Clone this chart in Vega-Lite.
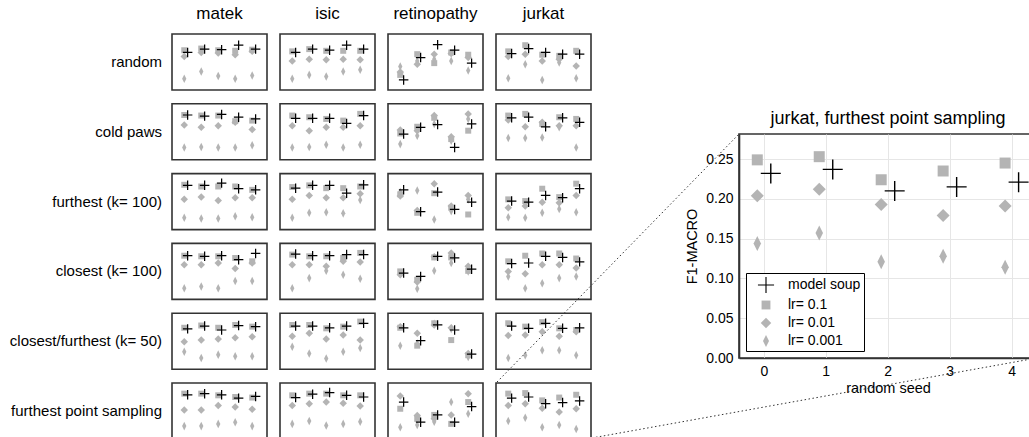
{
  "$schema": "https://vega.github.io/schema/vega-lite/v6.json",
  "padding": {"left": 9, "top": 5, "right": 0, "bottom": 0},
  "config": {
    "font": "Liberation Sans",
    "view": {"stroke": "#333", "strokeWidth": 1.6},
    "axis": {"labelColor": "#000", "titleColor": "#000", "titleFontWeight": "normal", "labelFontSize": 14, "titleFontSize": 14.5, "gridColor": "#e6e6e6", "gridWidth": 1, "domainColor": "#333", "domainWidth": 1.6, "ticks": false},
    "header": {"labelColor": "#000"},
    "legend": {"labelColor": "#000"},
    "title": {"color": "#000"}
  },
  "datasets": {
    "grid": [
{"d":"matek","m":"random","x":0,"s":"model soup","v":0.67},{"d":"matek","m":"random","x":0,"s":"lr= 0.1","v":0.71},{"d":"matek","m":"random","x":0,"s":"lr= 0.01","v":0.60},{"d":"matek","m":"random","x":0,"s":"lr= 0.001","v":0.20},
{"d":"matek","m":"random","x":1,"s":"model soup","v":0.73},{"d":"matek","m":"random","x":1,"s":"lr= 0.1","v":0.74},{"d":"matek","m":"random","x":1,"s":"lr= 0.01","v":0.67},{"d":"matek","m":"random","x":1,"s":"lr= 0.001","v":0.33},
{"d":"matek","m":"random","x":2,"s":"model soup","v":0.72},{"d":"matek","m":"random","x":2,"s":"lr= 0.1","v":0.71},{"d":"matek","m":"random","x":2,"s":"lr= 0.01","v":0.66},{"d":"matek","m":"random","x":2,"s":"lr= 0.001","v":0.25},
{"d":"matek","m":"random","x":3,"s":"model soup","v":0.80},{"d":"matek","m":"random","x":3,"s":"lr= 0.1","v":0.70},{"d":"matek","m":"random","x":3,"s":"lr= 0.01","v":0.63},{"d":"matek","m":"random","x":3,"s":"lr= 0.001","v":0.20},
{"d":"matek","m":"random","x":4,"s":"model soup","v":0.73},{"d":"matek","m":"random","x":4,"s":"lr= 0.1","v":0.72},{"d":"matek","m":"random","x":4,"s":"lr= 0.01","v":0.69},{"d":"matek","m":"random","x":4,"s":"lr= 0.001","v":0.26},
{"d":"matek","m":"cold paws","x":0,"s":"model soup","v":0.80},{"d":"matek","m":"cold paws","x":0,"s":"lr= 0.1","v":0.80},{"d":"matek","m":"cold paws","x":0,"s":"lr= 0.01","v":0.62},{"d":"matek","m":"cold paws","x":0,"s":"lr= 0.001","v":0.22},
{"d":"matek","m":"cold paws","x":1,"s":"model soup","v":0.78},{"d":"matek","m":"cold paws","x":1,"s":"lr= 0.1","v":0.79},{"d":"matek","m":"cold paws","x":1,"s":"lr= 0.01","v":0.58},{"d":"matek","m":"cold paws","x":1,"s":"lr= 0.001","v":0.23},
{"d":"matek","m":"cold paws","x":2,"s":"model soup","v":0.81},{"d":"matek","m":"cold paws","x":2,"s":"lr= 0.1","v":0.79},{"d":"matek","m":"cold paws","x":2,"s":"lr= 0.01","v":0.61},{"d":"matek","m":"cold paws","x":2,"s":"lr= 0.001","v":0.22},
{"d":"matek","m":"cold paws","x":3,"s":"model soup","v":0.76},{"d":"matek","m":"cold paws","x":3,"s":"lr= 0.1","v":0.69},{"d":"matek","m":"cold paws","x":3,"s":"lr= 0.01","v":0.67},{"d":"matek","m":"cold paws","x":3,"s":"lr= 0.001","v":0.22},
{"d":"matek","m":"cold paws","x":4,"s":"model soup","v":0.73},{"d":"matek","m":"cold paws","x":4,"s":"lr= 0.1","v":0.70},{"d":"matek","m":"cold paws","x":4,"s":"lr= 0.01","v":0.54},{"d":"matek","m":"cold paws","x":4,"s":"lr= 0.001","v":0.26},
{"d":"matek","m":"furthest (k= 100)","x":0,"s":"model soup","v":0.79},{"d":"matek","m":"furthest (k= 100)","x":0,"s":"lr= 0.1","v":0.80},{"d":"matek","m":"furthest (k= 100)","x":0,"s":"lr= 0.01","v":0.54},{"d":"matek","m":"furthest (k= 100)","x":0,"s":"lr= 0.001","v":0.21},
{"d":"matek","m":"furthest (k= 100)","x":1,"s":"model soup","v":0.79},{"d":"matek","m":"furthest (k= 100)","x":1,"s":"lr= 0.1","v":0.77},{"d":"matek","m":"furthest (k= 100)","x":1,"s":"lr= 0.01","v":0.58},{"d":"matek","m":"furthest (k= 100)","x":1,"s":"lr= 0.001","v":0.20},
{"d":"matek","m":"furthest (k= 100)","x":2,"s":"model soup","v":0.83},{"d":"matek","m":"furthest (k= 100)","x":2,"s":"lr= 0.1","v":0.77},{"d":"matek","m":"furthest (k= 100)","x":2,"s":"lr= 0.01","v":0.52},{"d":"matek","m":"furthest (k= 100)","x":2,"s":"lr= 0.001","v":0.20},
{"d":"matek","m":"furthest (k= 100)","x":3,"s":"model soup","v":0.73},{"d":"matek","m":"furthest (k= 100)","x":3,"s":"lr= 0.1","v":0.77},{"d":"matek","m":"furthest (k= 100)","x":3,"s":"lr= 0.01","v":0.57},{"d":"matek","m":"furthest (k= 100)","x":3,"s":"lr= 0.001","v":0.24},
{"d":"matek","m":"furthest (k= 100)","x":4,"s":"model soup","v":0.71},{"d":"matek","m":"furthest (k= 100)","x":4,"s":"lr= 0.1","v":0.71},{"d":"matek","m":"furthest (k= 100)","x":4,"s":"lr= 0.01","v":0.57},{"d":"matek","m":"furthest (k= 100)","x":4,"s":"lr= 0.001","v":0.22},
{"d":"matek","m":"closest (k= 100)","x":0,"s":"model soup","v":0.78},{"d":"matek","m":"closest (k= 100)","x":0,"s":"lr= 0.1","v":0.78},{"d":"matek","m":"closest (k= 100)","x":0,"s":"lr= 0.01","v":0.62},{"d":"matek","m":"closest (k= 100)","x":0,"s":"lr= 0.001","v":0.20},
{"d":"matek","m":"closest (k= 100)","x":1,"s":"model soup","v":0.77},{"d":"matek","m":"closest (k= 100)","x":1,"s":"lr= 0.1","v":0.77},{"d":"matek","m":"closest (k= 100)","x":1,"s":"lr= 0.01","v":0.62},{"d":"matek","m":"closest (k= 100)","x":1,"s":"lr= 0.001","v":0.23},
{"d":"matek","m":"closest (k= 100)","x":2,"s":"model soup","v":0.78},{"d":"matek","m":"closest (k= 100)","x":2,"s":"lr= 0.1","v":0.77},{"d":"matek","m":"closest (k= 100)","x":2,"s":"lr= 0.01","v":0.65},{"d":"matek","m":"closest (k= 100)","x":2,"s":"lr= 0.001","v":0.20},
{"d":"matek","m":"closest (k= 100)","x":3,"s":"model soup","v":0.71},{"d":"matek","m":"closest (k= 100)","x":3,"s":"lr= 0.1","v":0.74},{"d":"matek","m":"closest (k= 100)","x":3,"s":"lr= 0.01","v":0.55},{"d":"matek","m":"closest (k= 100)","x":3,"s":"lr= 0.001","v":0.33},
{"d":"matek","m":"closest (k= 100)","x":4,"s":"model soup","v":0.82},{"d":"matek","m":"closest (k= 100)","x":4,"s":"lr= 0.1","v":0.68},{"d":"matek","m":"closest (k= 100)","x":4,"s":"lr= 0.01","v":0.65},{"d":"matek","m":"closest (k= 100)","x":4,"s":"lr= 0.001","v":0.33},
{"d":"matek","m":"closest/furthest (k= 50)","x":0,"s":"model soup","v":0.72},{"d":"matek","m":"closest/furthest (k= 50)","x":0,"s":"lr= 0.1","v":0.74},{"d":"matek","m":"closest/furthest (k= 50)","x":0,"s":"lr= 0.01","v":0.49},{"d":"matek","m":"closest/furthest (k= 50)","x":0,"s":"lr= 0.001","v":0.31},
{"d":"matek","m":"closest/furthest (k= 50)","x":1,"s":"model soup","v":0.77},{"d":"matek","m":"closest/furthest (k= 50)","x":1,"s":"lr= 0.1","v":0.78},{"d":"matek","m":"closest/furthest (k= 50)","x":1,"s":"lr= 0.01","v":0.52},{"d":"matek","m":"closest/furthest (k= 50)","x":1,"s":"lr= 0.001","v":0.20},
{"d":"matek","m":"closest/furthest (k= 50)","x":2,"s":"model soup","v":0.70},{"d":"matek","m":"closest/furthest (k= 50)","x":2,"s":"lr= 0.1","v":0.74},{"d":"matek","m":"closest/furthest (k= 50)","x":2,"s":"lr= 0.01","v":0.54},{"d":"matek","m":"closest/furthest (k= 50)","x":2,"s":"lr= 0.001","v":0.26},
{"d":"matek","m":"closest/furthest (k= 50)","x":3,"s":"model soup","v":0.78},{"d":"matek","m":"closest/furthest (k= 50)","x":3,"s":"lr= 0.1","v":0.79},{"d":"matek","m":"closest/furthest (k= 50)","x":3,"s":"lr= 0.01","v":0.56},{"d":"matek","m":"closest/furthest (k= 50)","x":3,"s":"lr= 0.001","v":0.23},
{"d":"matek","m":"closest/furthest (k= 50)","x":4,"s":"model soup","v":0.76},{"d":"matek","m":"closest/furthest (k= 50)","x":4,"s":"lr= 0.1","v":0.76},{"d":"matek","m":"closest/furthest (k= 50)","x":4,"s":"lr= 0.01","v":0.58},{"d":"matek","m":"closest/furthest (k= 50)","x":4,"s":"lr= 0.001","v":0.23},
{"d":"matek","m":"furthest point sampling","x":0,"s":"model soup","v":0.79},{"d":"matek","m":"furthest point sampling","x":0,"s":"lr= 0.1","v":0.81},{"d":"matek","m":"furthest point sampling","x":0,"s":"lr= 0.01","v":0.52},{"d":"matek","m":"furthest point sampling","x":0,"s":"lr= 0.001","v":0.23},
{"d":"matek","m":"furthest point sampling","x":1,"s":"model soup","v":0.81},{"d":"matek","m":"furthest point sampling","x":1,"s":"lr= 0.1","v":0.81},{"d":"matek","m":"furthest point sampling","x":1,"s":"lr= 0.01","v":0.52},{"d":"matek","m":"furthest point sampling","x":1,"s":"lr= 0.001","v":0.23},
{"d":"matek","m":"furthest point sampling","x":2,"s":"model soup","v":0.79},{"d":"matek","m":"furthest point sampling","x":2,"s":"lr= 0.1","v":0.78},{"d":"matek","m":"furthest point sampling","x":2,"s":"lr= 0.01","v":0.60},{"d":"matek","m":"furthest point sampling","x":2,"s":"lr= 0.001","v":0.27},
{"d":"matek","m":"furthest point sampling","x":3,"s":"model soup","v":0.73},{"d":"matek","m":"furthest point sampling","x":3,"s":"lr= 0.1","v":0.75},{"d":"matek","m":"furthest point sampling","x":3,"s":"lr= 0.01","v":0.57},{"d":"matek","m":"furthest point sampling","x":3,"s":"lr= 0.001","v":0.30},
{"d":"matek","m":"furthest point sampling","x":4,"s":"model soup","v":0.76},{"d":"matek","m":"furthest point sampling","x":4,"s":"lr= 0.1","v":0.74},{"d":"matek","m":"furthest point sampling","x":4,"s":"lr= 0.01","v":0.53},{"d":"matek","m":"furthest point sampling","x":4,"s":"lr= 0.001","v":0.23},
{"d":"isic","m":"random","x":0,"s":"model soup","v":0.67},{"d":"isic","m":"random","x":0,"s":"lr= 0.1","v":0.69},{"d":"isic","m":"random","x":0,"s":"lr= 0.01","v":0.52},{"d":"isic","m":"random","x":0,"s":"lr= 0.001","v":0.20},
{"d":"isic","m":"random","x":1,"s":"model soup","v":0.73},{"d":"isic","m":"random","x":1,"s":"lr= 0.1","v":0.73},{"d":"isic","m":"random","x":1,"s":"lr= 0.01","v":0.55},{"d":"isic","m":"random","x":1,"s":"lr= 0.001","v":0.27},
{"d":"isic","m":"random","x":2,"s":"model soup","v":0.71},{"d":"isic","m":"random","x":2,"s":"lr= 0.1","v":0.70},{"d":"isic","m":"random","x":2,"s":"lr= 0.01","v":0.54},{"d":"isic","m":"random","x":2,"s":"lr= 0.001","v":0.24},
{"d":"isic","m":"random","x":3,"s":"model soup","v":0.80},{"d":"isic","m":"random","x":3,"s":"lr= 0.1","v":0.70},{"d":"isic","m":"random","x":3,"s":"lr= 0.01","v":0.55},{"d":"isic","m":"random","x":3,"s":"lr= 0.001","v":0.33},
{"d":"isic","m":"random","x":4,"s":"model soup","v":0.73},{"d":"isic","m":"random","x":4,"s":"lr= 0.1","v":0.70},{"d":"isic","m":"random","x":4,"s":"lr= 0.01","v":0.54},{"d":"isic","m":"random","x":4,"s":"lr= 0.001","v":0.36},
{"d":"isic","m":"cold paws","x":0,"s":"model soup","v":0.74},{"d":"isic","m":"cold paws","x":0,"s":"lr= 0.1","v":0.79},{"d":"isic","m":"cold paws","x":0,"s":"lr= 0.01","v":0.61},{"d":"isic","m":"cold paws","x":0,"s":"lr= 0.001","v":0.22},
{"d":"isic","m":"cold paws","x":1,"s":"model soup","v":0.74},{"d":"isic","m":"cold paws","x":1,"s":"lr= 0.1","v":0.76},{"d":"isic","m":"cold paws","x":1,"s":"lr= 0.01","v":0.52},{"d":"isic","m":"cold paws","x":1,"s":"lr= 0.001","v":0.23},
{"d":"isic","m":"cold paws","x":2,"s":"model soup","v":0.74},{"d":"isic","m":"cold paws","x":2,"s":"lr= 0.1","v":0.73},{"d":"isic","m":"cold paws","x":2,"s":"lr= 0.01","v":0.58},{"d":"isic","m":"cold paws","x":2,"s":"lr= 0.001","v":0.27},
{"d":"isic","m":"cold paws","x":3,"s":"model soup","v":0.65},{"d":"isic","m":"cold paws","x":3,"s":"lr= 0.1","v":0.70},{"d":"isic","m":"cold paws","x":3,"s":"lr= 0.01","v":0.58},{"d":"isic","m":"cold paws","x":3,"s":"lr= 0.001","v":0.22},
{"d":"isic","m":"cold paws","x":4,"s":"model soup","v":0.79},{"d":"isic","m":"cold paws","x":4,"s":"lr= 0.1","v":0.82},{"d":"isic","m":"cold paws","x":4,"s":"lr= 0.01","v":0.61},{"d":"isic","m":"cold paws","x":4,"s":"lr= 0.001","v":0.27},
{"d":"isic","m":"furthest (k= 100)","x":0,"s":"model soup","v":0.74},{"d":"isic","m":"furthest (k= 100)","x":0,"s":"lr= 0.1","v":0.76},{"d":"isic","m":"furthest (k= 100)","x":0,"s":"lr= 0.01","v":0.54},{"d":"isic","m":"furthest (k= 100)","x":0,"s":"lr= 0.001","v":0.21},
{"d":"isic","m":"furthest (k= 100)","x":1,"s":"model soup","v":0.79},{"d":"isic","m":"furthest (k= 100)","x":1,"s":"lr= 0.1","v":0.79},{"d":"isic","m":"furthest (k= 100)","x":1,"s":"lr= 0.01","v":0.61},{"d":"isic","m":"furthest (k= 100)","x":1,"s":"lr= 0.001","v":0.30},
{"d":"isic","m":"furthest (k= 100)","x":2,"s":"model soup","v":0.79},{"d":"isic","m":"furthest (k= 100)","x":2,"s":"lr= 0.1","v":0.74},{"d":"isic","m":"furthest (k= 100)","x":2,"s":"lr= 0.01","v":0.57},{"d":"isic","m":"furthest (k= 100)","x":2,"s":"lr= 0.001","v":0.31},
{"d":"isic","m":"furthest (k= 100)","x":3,"s":"model soup","v":0.65},{"d":"isic","m":"furthest (k= 100)","x":3,"s":"lr= 0.1","v":0.74},{"d":"isic","m":"furthest (k= 100)","x":3,"s":"lr= 0.01","v":0.57},{"d":"isic","m":"furthest (k= 100)","x":3,"s":"lr= 0.001","v":0.29},
{"d":"isic","m":"furthest (k= 100)","x":4,"s":"model soup","v":0.80},{"d":"isic","m":"furthest (k= 100)","x":4,"s":"lr= 0.1","v":0.77},{"d":"isic","m":"furthest (k= 100)","x":4,"s":"lr= 0.01","v":0.64},{"d":"isic","m":"furthest (k= 100)","x":4,"s":"lr= 0.001","v":0.53},
{"d":"isic","m":"closest (k= 100)","x":0,"s":"model soup","v":0.81},{"d":"isic","m":"closest (k= 100)","x":0,"s":"lr= 0.1","v":0.80},{"d":"isic","m":"closest (k= 100)","x":0,"s":"lr= 0.01","v":0.62},{"d":"isic","m":"closest (k= 100)","x":0,"s":"lr= 0.001","v":0.20},
{"d":"isic","m":"closest (k= 100)","x":1,"s":"model soup","v":0.78},{"d":"isic","m":"closest (k= 100)","x":1,"s":"lr= 0.1","v":0.77},{"d":"isic","m":"closest (k= 100)","x":1,"s":"lr= 0.01","v":0.62},{"d":"isic","m":"closest (k= 100)","x":1,"s":"lr= 0.001","v":0.38},
{"d":"isic","m":"closest (k= 100)","x":2,"s":"model soup","v":0.78},{"d":"isic","m":"closest (k= 100)","x":2,"s":"lr= 0.1","v":0.77},{"d":"isic","m":"closest (k= 100)","x":2,"s":"lr= 0.01","v":0.59},{"d":"isic","m":"closest (k= 100)","x":2,"s":"lr= 0.001","v":0.51},
{"d":"isic","m":"closest (k= 100)","x":3,"s":"model soup","v":0.80},{"d":"isic","m":"closest (k= 100)","x":3,"s":"lr= 0.1","v":0.74},{"d":"isic","m":"closest (k= 100)","x":3,"s":"lr= 0.01","v":0.68},{"d":"isic","m":"closest (k= 100)","x":3,"s":"lr= 0.001","v":0.44},
{"d":"isic","m":"closest (k= 100)","x":4,"s":"model soup","v":0.80},{"d":"isic","m":"closest (k= 100)","x":4,"s":"lr= 0.1","v":0.83},{"d":"isic","m":"closest (k= 100)","x":4,"s":"lr= 0.01","v":0.67},{"d":"isic","m":"closest (k= 100)","x":4,"s":"lr= 0.001","v":0.37},
{"d":"isic","m":"closest/furthest (k= 50)","x":0,"s":"model soup","v":0.77},{"d":"isic","m":"closest/furthest (k= 50)","x":0,"s":"lr= 0.1","v":0.79},{"d":"isic","m":"closest/furthest (k= 50)","x":0,"s":"lr= 0.01","v":0.59},{"d":"isic","m":"closest/furthest (k= 50)","x":0,"s":"lr= 0.001","v":0.40},
{"d":"isic","m":"closest/furthest (k= 50)","x":1,"s":"model soup","v":0.77},{"d":"isic","m":"closest/furthest (k= 50)","x":1,"s":"lr= 0.1","v":0.79},{"d":"isic","m":"closest/furthest (k= 50)","x":1,"s":"lr= 0.01","v":0.64},{"d":"isic","m":"closest/furthest (k= 50)","x":1,"s":"lr= 0.001","v":0.28},
{"d":"isic","m":"closest/furthest (k= 50)","x":2,"s":"model soup","v":0.74},{"d":"isic","m":"closest/furthest (k= 50)","x":2,"s":"lr= 0.1","v":0.73},{"d":"isic","m":"closest/furthest (k= 50)","x":2,"s":"lr= 0.01","v":0.54},{"d":"isic","m":"closest/furthest (k= 50)","x":2,"s":"lr= 0.001","v":0.19},
{"d":"isic","m":"closest/furthest (k= 50)","x":3,"s":"model soup","v":0.77},{"d":"isic","m":"closest/furthest (k= 50)","x":3,"s":"lr= 0.1","v":0.76},{"d":"isic","m":"closest/furthest (k= 50)","x":3,"s":"lr= 0.01","v":0.61},{"d":"isic","m":"closest/furthest (k= 50)","x":3,"s":"lr= 0.001","v":0.31},
{"d":"isic","m":"closest/furthest (k= 50)","x":4,"s":"model soup","v":0.82},{"d":"isic","m":"closest/furthest (k= 50)","x":4,"s":"lr= 0.1","v":0.85},{"d":"isic","m":"closest/furthest (k= 50)","x":4,"s":"lr= 0.01","v":0.52},{"d":"isic","m":"closest/furthest (k= 50)","x":4,"s":"lr= 0.001","v":0.38},
{"d":"isic","m":"furthest point sampling","x":0,"s":"model soup","v":0.74},{"d":"isic","m":"furthest point sampling","x":0,"s":"lr= 0.1","v":0.78},{"d":"isic","m":"furthest point sampling","x":0,"s":"lr= 0.01","v":0.60},{"d":"isic","m":"furthest point sampling","x":0,"s":"lr= 0.001","v":0.27},
{"d":"isic","m":"furthest point sampling","x":1,"s":"model soup","v":0.80},{"d":"isic","m":"furthest point sampling","x":1,"s":"lr= 0.1","v":0.81},{"d":"isic","m":"furthest point sampling","x":1,"s":"lr= 0.01","v":0.63},{"d":"isic","m":"furthest point sampling","x":1,"s":"lr= 0.001","v":0.32},
{"d":"isic","m":"furthest point sampling","x":2,"s":"model soup","v":0.83},{"d":"isic","m":"furthest point sampling","x":2,"s":"lr= 0.1","v":0.81},{"d":"isic","m":"furthest point sampling","x":2,"s":"lr= 0.01","v":0.66},{"d":"isic","m":"furthest point sampling","x":2,"s":"lr= 0.001","v":0.24},
{"d":"isic","m":"furthest point sampling","x":3,"s":"model soup","v":0.78},{"d":"isic","m":"furthest point sampling","x":3,"s":"lr= 0.1","v":0.78},{"d":"isic","m":"furthest point sampling","x":3,"s":"lr= 0.01","v":0.64},{"d":"isic","m":"furthest point sampling","x":3,"s":"lr= 0.001","v":0.27},
{"d":"isic","m":"furthest point sampling","x":4,"s":"model soup","v":0.75},{"d":"isic","m":"furthest point sampling","x":4,"s":"lr= 0.1","v":0.78},{"d":"isic","m":"furthest point sampling","x":4,"s":"lr= 0.01","v":0.59},{"d":"isic","m":"furthest point sampling","x":4,"s":"lr= 0.001","v":0.31},
{"d":"retinopathy","m":"random","x":0,"s":"model soup","v":0.18},{"d":"retinopathy","m":"random","x":0,"s":"lr= 0.1","v":0.27},{"d":"retinopathy","m":"random","x":0,"s":"lr= 0.01","v":0.32},{"d":"retinopathy","m":"random","x":0,"s":"lr= 0.001","v":0.42},
{"d":"retinopathy","m":"random","x":1,"s":"model soup","v":0.58},{"d":"retinopathy","m":"random","x":1,"s":"lr= 0.1","v":0.64},{"d":"retinopathy","m":"random","x":1,"s":"lr= 0.01","v":0.46},{"d":"retinopathy","m":"random","x":1,"s":"lr= 0.001","v":0.52},
{"d":"retinopathy","m":"random","x":2,"s":"model soup","v":0.81},{"d":"retinopathy","m":"random","x":2,"s":"lr= 0.1","v":0.48},{"d":"retinopathy","m":"random","x":2,"s":"lr= 0.01","v":0.64},{"d":"retinopathy","m":"random","x":2,"s":"lr= 0.001","v":0.55},
{"d":"retinopathy","m":"random","x":3,"s":"model soup","v":0.71},{"d":"retinopathy","m":"random","x":3,"s":"lr= 0.1","v":0.67},{"d":"retinopathy","m":"random","x":3,"s":"lr= 0.01","v":0.65},{"d":"retinopathy","m":"random","x":3,"s":"lr= 0.001","v":0.52},
{"d":"retinopathy","m":"random","x":4,"s":"model soup","v":0.48},{"d":"retinopathy","m":"random","x":4,"s":"lr= 0.1","v":0.63},{"d":"retinopathy","m":"random","x":4,"s":"lr= 0.01","v":0.58},{"d":"retinopathy","m":"random","x":4,"s":"lr= 0.001","v":0.35},
{"d":"retinopathy","m":"cold paws","x":0,"s":"model soup","v":0.46},{"d":"retinopathy","m":"cold paws","x":0,"s":"lr= 0.1","v":0.47},{"d":"retinopathy","m":"cold paws","x":0,"s":"lr= 0.01","v":0.53},{"d":"retinopathy","m":"cold paws","x":0,"s":"lr= 0.001","v":0.28},
{"d":"retinopathy","m":"cold paws","x":1,"s":"model soup","v":0.58},{"d":"retinopathy","m":"cold paws","x":1,"s":"lr= 0.1","v":0.59},{"d":"retinopathy","m":"cold paws","x":1,"s":"lr= 0.01","v":0.52},{"d":"retinopathy","m":"cold paws","x":1,"s":"lr= 0.001","v":0.43},
{"d":"retinopathy","m":"cold paws","x":2,"s":"model soup","v":0.63},{"d":"retinopathy","m":"cold paws","x":2,"s":"lr= 0.1","v":0.75},{"d":"retinopathy","m":"cold paws","x":2,"s":"lr= 0.01","v":0.79},{"d":"retinopathy","m":"cold paws","x":2,"s":"lr= 0.001","v":0.64},
{"d":"retinopathy","m":"cold paws","x":3,"s":"model soup","v":0.22},{"d":"retinopathy","m":"cold paws","x":3,"s":"lr= 0.1","v":0.37},{"d":"retinopathy","m":"cold paws","x":3,"s":"lr= 0.01","v":0.41},{"d":"retinopathy","m":"cold paws","x":3,"s":"lr= 0.001","v":0.34},
{"d":"retinopathy","m":"cold paws","x":4,"s":"model soup","v":0.64},{"d":"retinopathy","m":"cold paws","x":4,"s":"lr= 0.1","v":0.52},{"d":"retinopathy","m":"cold paws","x":4,"s":"lr= 0.01","v":0.82},{"d":"retinopathy","m":"cold paws","x":4,"s":"lr= 0.001","v":0.73},
{"d":"retinopathy","m":"furthest (k= 100)","x":0,"s":"model soup","v":0.71},{"d":"retinopathy","m":"furthest (k= 100)","x":0,"s":"lr= 0.1","v":0.63},{"d":"retinopathy","m":"furthest (k= 100)","x":0,"s":"lr= 0.01","v":0.60},{"d":"retinopathy","m":"furthest (k= 100)","x":0,"s":"lr= 0.001","v":0.67},
{"d":"retinopathy","m":"furthest (k= 100)","x":1,"s":"model soup","v":0.32},{"d":"retinopathy","m":"furthest (k= 100)","x":1,"s":"lr= 0.1","v":0.30},{"d":"retinopathy","m":"furthest (k= 100)","x":1,"s":"lr= 0.01","v":0.34},{"d":"retinopathy","m":"furthest (k= 100)","x":1,"s":"lr= 0.001","v":0.70},
{"d":"retinopathy","m":"furthest (k= 100)","x":2,"s":"model soup","v":0.67},{"d":"retinopathy","m":"furthest (k= 100)","x":2,"s":"lr= 0.1","v":0.65},{"d":"retinopathy","m":"furthest (k= 100)","x":2,"s":"lr= 0.01","v":0.82},{"d":"retinopathy","m":"furthest (k= 100)","x":2,"s":"lr= 0.001","v":0.18},
{"d":"retinopathy","m":"furthest (k= 100)","x":3,"s":"model soup","v":0.36},{"d":"retinopathy","m":"furthest (k= 100)","x":3,"s":"lr= 0.1","v":0.39},{"d":"retinopathy","m":"furthest (k= 100)","x":3,"s":"lr= 0.01","v":0.42},{"d":"retinopathy","m":"furthest (k= 100)","x":3,"s":"lr= 0.001","v":0.33},
{"d":"retinopathy","m":"furthest (k= 100)","x":4,"s":"model soup","v":0.49},{"d":"retinopathy","m":"furthest (k= 100)","x":4,"s":"lr= 0.1","v":0.27},{"d":"retinopathy","m":"furthest (k= 100)","x":4,"s":"lr= 0.01","v":0.61},{"d":"retinopathy","m":"furthest (k= 100)","x":4,"s":"lr= 0.001","v":0.54},
{"d":"retinopathy","m":"closest (k= 100)","x":0,"s":"model soup","v":0.47},{"d":"retinopathy","m":"closest (k= 100)","x":0,"s":"lr= 0.1","v":0.50},{"d":"retinopathy","m":"closest (k= 100)","x":0,"s":"lr= 0.01","v":0.44},{"d":"retinopathy","m":"closest (k= 100)","x":0,"s":"lr= 0.001","v":0.47},
{"d":"retinopathy","m":"closest (k= 100)","x":1,"s":"model soup","v":0.41},{"d":"retinopathy","m":"closest (k= 100)","x":1,"s":"lr= 0.1","v":0.35},{"d":"retinopathy","m":"closest (k= 100)","x":1,"s":"lr= 0.01","v":0.31},{"d":"retinopathy","m":"closest (k= 100)","x":1,"s":"lr= 0.001","v":0.19},
{"d":"retinopathy","m":"closest (k= 100)","x":2,"s":"model soup","v":0.77},{"d":"retinopathy","m":"closest (k= 100)","x":2,"s":"lr= 0.1","v":0.75},{"d":"retinopathy","m":"closest (k= 100)","x":2,"s":"lr= 0.01","v":0.76},{"d":"retinopathy","m":"closest (k= 100)","x":2,"s":"lr= 0.001","v":0.51},
{"d":"retinopathy","m":"closest (k= 100)","x":3,"s":"model soup","v":0.74},{"d":"retinopathy","m":"closest (k= 100)","x":3,"s":"lr= 0.1","v":0.75},{"d":"retinopathy","m":"closest (k= 100)","x":3,"s":"lr= 0.01","v":0.83},{"d":"retinopathy","m":"closest (k= 100)","x":3,"s":"lr= 0.001","v":0.65},
{"d":"retinopathy","m":"closest (k= 100)","x":4,"s":"model soup","v":0.54},{"d":"retinopathy","m":"closest (k= 100)","x":4,"s":"lr= 0.1","v":0.51},{"d":"retinopathy","m":"closest (k= 100)","x":4,"s":"lr= 0.01","v":0.59},{"d":"retinopathy","m":"closest (k= 100)","x":4,"s":"lr= 0.001","v":0.50},
{"d":"retinopathy","m":"closest/furthest (k= 50)","x":0,"s":"model soup","v":0.74},{"d":"retinopathy","m":"closest/furthest (k= 50)","x":0,"s":"lr= 0.1","v":0.74},{"d":"retinopathy","m":"closest/furthest (k= 50)","x":0,"s":"lr= 0.01","v":0.76},{"d":"retinopathy","m":"closest/furthest (k= 50)","x":0,"s":"lr= 0.001","v":0.42},
{"d":"retinopathy","m":"closest/furthest (k= 50)","x":1,"s":"model soup","v":0.51},{"d":"retinopathy","m":"closest/furthest (k= 50)","x":1,"s":"lr= 0.1","v":0.42},{"d":"retinopathy","m":"closest/furthest (k= 50)","x":1,"s":"lr= 0.01","v":0.64},{"d":"retinopathy","m":"closest/furthest (k= 50)","x":1,"s":"lr= 0.001","v":0.46},
{"d":"retinopathy","m":"closest/furthest (k= 50)","x":2,"s":"model soup","v":0.79},{"d":"retinopathy","m":"closest/furthest (k= 50)","x":2,"s":"lr= 0.1","v":0.82},{"d":"retinopathy","m":"closest/furthest (k= 50)","x":2,"s":"lr= 0.01","v":0.79},{"d":"retinopathy","m":"closest/furthest (k= 50)","x":2,"s":"lr= 0.001","v":0.81},
{"d":"retinopathy","m":"closest/furthest (k= 50)","x":3,"s":"model soup","v":0.70},{"d":"retinopathy","m":"closest/furthest (k= 50)","x":3,"s":"lr= 0.1","v":0.52},{"d":"retinopathy","m":"closest/furthest (k= 50)","x":3,"s":"lr= 0.01","v":0.74},{"d":"retinopathy","m":"closest/furthest (k= 50)","x":3,"s":"lr= 0.001","v":0.72},
{"d":"retinopathy","m":"closest/furthest (k= 50)","x":4,"s":"model soup","v":0.27},{"d":"retinopathy","m":"closest/furthest (k= 50)","x":4,"s":"lr= 0.1","v":0.25},{"d":"retinopathy","m":"closest/furthest (k= 50)","x":4,"s":"lr= 0.01","v":0.28},{"d":"retinopathy","m":"closest/furthest (k= 50)","x":4,"s":"lr= 0.001","v":0.22},
{"d":"retinopathy","m":"furthest point sampling","x":0,"s":"model soup","v":0.66},{"d":"retinopathy","m":"furthest point sampling","x":0,"s":"lr= 0.1","v":0.54},{"d":"retinopathy","m":"furthest point sampling","x":0,"s":"lr= 0.01","v":0.77},{"d":"retinopathy","m":"furthest point sampling","x":0,"s":"lr= 0.001","v":0.21},
{"d":"retinopathy","m":"furthest point sampling","x":1,"s":"model soup","v":0.30},{"d":"retinopathy","m":"furthest point sampling","x":1,"s":"lr= 0.1","v":0.36},{"d":"retinopathy","m":"furthest point sampling","x":1,"s":"lr= 0.01","v":0.42},{"d":"retinopathy","m":"furthest point sampling","x":1,"s":"lr= 0.001","v":0.25},
{"d":"retinopathy","m":"furthest point sampling","x":2,"s":"model soup","v":0.43},{"d":"retinopathy","m":"furthest point sampling","x":2,"s":"lr= 0.1","v":0.43},{"d":"retinopathy","m":"furthest point sampling","x":2,"s":"lr= 0.01","v":0.36},{"d":"retinopathy","m":"furthest point sampling","x":2,"s":"lr= 0.001","v":0.31},
{"d":"retinopathy","m":"furthest point sampling","x":3,"s":"model soup","v":0.30},{"d":"retinopathy","m":"furthest point sampling","x":3,"s":"lr= 0.1","v":0.27},{"d":"retinopathy","m":"furthest point sampling","x":3,"s":"lr= 0.01","v":0.43},{"d":"retinopathy","m":"furthest point sampling","x":3,"s":"lr= 0.001","v":0.66},
{"d":"retinopathy","m":"furthest point sampling","x":4,"s":"model soup","v":0.58},{"d":"retinopathy","m":"furthest point sampling","x":4,"s":"lr= 0.1","v":0.66},{"d":"retinopathy","m":"furthest point sampling","x":4,"s":"lr= 0.01","v":0.81},{"d":"retinopathy","m":"furthest point sampling","x":4,"s":"lr= 0.001","v":0.45},
{"d":"jurkat","m":"random","x":0,"s":"model soup","v":0.65},{"d":"jurkat","m":"random","x":0,"s":"lr= 0.1","v":0.69},{"d":"jurkat","m":"random","x":0,"s":"lr= 0.01","v":0.60},{"d":"jurkat","m":"random","x":0,"s":"lr= 0.001","v":0.21},
{"d":"jurkat","m":"random","x":1,"s":"model soup","v":0.74},{"d":"jurkat","m":"random","x":1,"s":"lr= 0.1","v":0.80},{"d":"jurkat","m":"random","x":1,"s":"lr= 0.01","v":0.64},{"d":"jurkat","m":"random","x":1,"s":"lr= 0.001","v":0.46},
{"d":"jurkat","m":"random","x":2,"s":"model soup","v":0.67},{"d":"jurkat","m":"random","x":2,"s":"lr= 0.1","v":0.63},{"d":"jurkat","m":"random","x":2,"s":"lr= 0.01","v":0.52},{"d":"jurkat","m":"random","x":2,"s":"lr= 0.001","v":0.18},
{"d":"jurkat","m":"random","x":3,"s":"model soup","v":0.64},{"d":"jurkat","m":"random","x":3,"s":"lr= 0.1","v":0.61},{"d":"jurkat","m":"random","x":3,"s":"lr= 0.01","v":0.55},{"d":"jurkat","m":"random","x":3,"s":"lr= 0.001","v":0.49},
{"d":"jurkat","m":"random","x":4,"s":"model soup","v":0.64},{"d":"jurkat","m":"random","x":4,"s":"lr= 0.1","v":0.70},{"d":"jurkat","m":"random","x":4,"s":"lr= 0.01","v":0.43},{"d":"jurkat","m":"random","x":4,"s":"lr= 0.001","v":0.21},
{"d":"jurkat","m":"cold paws","x":0,"s":"model soup","v":0.75},{"d":"jurkat","m":"cold paws","x":0,"s":"lr= 0.1","v":0.79},{"d":"jurkat","m":"cold paws","x":0,"s":"lr= 0.01","v":0.71},{"d":"jurkat","m":"cold paws","x":0,"s":"lr= 0.001","v":0.39},
{"d":"jurkat","m":"cold paws","x":1,"s":"model soup","v":0.76},{"d":"jurkat","m":"cold paws","x":1,"s":"lr= 0.1","v":0.82},{"d":"jurkat","m":"cold paws","x":1,"s":"lr= 0.01","v":0.59},{"d":"jurkat","m":"cold paws","x":1,"s":"lr= 0.001","v":0.39},
{"d":"jurkat","m":"cold paws","x":2,"s":"model soup","v":0.59},{"d":"jurkat","m":"cold paws","x":2,"s":"lr= 0.1","v":0.64},{"d":"jurkat","m":"cold paws","x":2,"s":"lr= 0.01","v":0.67},{"d":"jurkat","m":"cold paws","x":2,"s":"lr= 0.001","v":0.40},
{"d":"jurkat","m":"cold paws","x":3,"s":"model soup","v":0.75},{"d":"jurkat","m":"cold paws","x":3,"s":"lr= 0.1","v":0.76},{"d":"jurkat","m":"cold paws","x":3,"s":"lr= 0.01","v":0.61},{"d":"jurkat","m":"cold paws","x":3,"s":"lr= 0.001","v":0.58},
{"d":"jurkat","m":"cold paws","x":4,"s":"model soup","v":0.67},{"d":"jurkat","m":"cold paws","x":4,"s":"lr= 0.1","v":0.73},{"d":"jurkat","m":"cold paws","x":4,"s":"lr= 0.01","v":0.61},{"d":"jurkat","m":"cold paws","x":4,"s":"lr= 0.001","v":0.22},
{"d":"jurkat","m":"furthest (k= 100)","x":0,"s":"model soup","v":0.51},{"d":"jurkat","m":"furthest (k= 100)","x":0,"s":"lr= 0.1","v":0.54},{"d":"jurkat","m":"furthest (k= 100)","x":0,"s":"lr= 0.01","v":0.39},{"d":"jurkat","m":"furthest (k= 100)","x":0,"s":"lr= 0.001","v":0.22},
{"d":"jurkat","m":"furthest (k= 100)","x":1,"s":"model soup","v":0.49},{"d":"jurkat","m":"furthest (k= 100)","x":1,"s":"lr= 0.1","v":0.51},{"d":"jurkat","m":"furthest (k= 100)","x":1,"s":"lr= 0.01","v":0.42},{"d":"jurkat","m":"furthest (k= 100)","x":1,"s":"lr= 0.001","v":0.21},
{"d":"jurkat","m":"furthest (k= 100)","x":2,"s":"model soup","v":0.61},{"d":"jurkat","m":"furthest (k= 100)","x":2,"s":"lr= 0.1","v":0.73},{"d":"jurkat","m":"furthest (k= 100)","x":2,"s":"lr= 0.01","v":0.49},{"d":"jurkat","m":"furthest (k= 100)","x":2,"s":"lr= 0.001","v":0.30},
{"d":"jurkat","m":"furthest (k= 100)","x":3,"s":"model soup","v":0.57},{"d":"jurkat","m":"furthest (k= 100)","x":3,"s":"lr= 0.1","v":0.58},{"d":"jurkat","m":"furthest (k= 100)","x":3,"s":"lr= 0.01","v":0.48},{"d":"jurkat","m":"furthest (k= 100)","x":3,"s":"lr= 0.001","v":0.37},
{"d":"jurkat","m":"furthest (k= 100)","x":4,"s":"model soup","v":0.73},{"d":"jurkat","m":"furthest (k= 100)","x":4,"s":"lr= 0.1","v":0.82},{"d":"jurkat","m":"furthest (k= 100)","x":4,"s":"lr= 0.01","v":0.61},{"d":"jurkat","m":"furthest (k= 100)","x":4,"s":"lr= 0.001","v":0.31},
{"d":"jurkat","m":"closest (k= 100)","x":0,"s":"model soup","v":0.64},{"d":"jurkat","m":"closest (k= 100)","x":0,"s":"lr= 0.1","v":0.68},{"d":"jurkat","m":"closest (k= 100)","x":0,"s":"lr= 0.01","v":0.50},{"d":"jurkat","m":"closest (k= 100)","x":0,"s":"lr= 0.001","v":0.41},
{"d":"jurkat","m":"closest (k= 100)","x":1,"s":"model soup","v":0.65},{"d":"jurkat","m":"closest (k= 100)","x":1,"s":"lr= 0.1","v":0.78},{"d":"jurkat","m":"closest (k= 100)","x":1,"s":"lr= 0.01","v":0.46},{"d":"jurkat","m":"closest (k= 100)","x":1,"s":"lr= 0.001","v":0.20},
{"d":"jurkat","m":"closest (k= 100)","x":2,"s":"model soup","v":0.77},{"d":"jurkat","m":"closest (k= 100)","x":2,"s":"lr= 0.1","v":0.82},{"d":"jurkat","m":"closest (k= 100)","x":2,"s":"lr= 0.01","v":0.62},{"d":"jurkat","m":"closest (k= 100)","x":2,"s":"lr= 0.001","v":0.29},
{"d":"jurkat","m":"closest (k= 100)","x":3,"s":"model soup","v":0.75},{"d":"jurkat","m":"closest (k= 100)","x":3,"s":"lr= 0.1","v":0.82},{"d":"jurkat","m":"closest (k= 100)","x":3,"s":"lr= 0.01","v":0.62},{"d":"jurkat","m":"closest (k= 100)","x":3,"s":"lr= 0.001","v":0.38},
{"d":"jurkat","m":"closest (k= 100)","x":4,"s":"model soup","v":0.67},{"d":"jurkat","m":"closest (k= 100)","x":4,"s":"lr= 0.1","v":0.73},{"d":"jurkat","m":"closest (k= 100)","x":4,"s":"lr= 0.01","v":0.56},{"d":"jurkat","m":"closest (k= 100)","x":4,"s":"lr= 0.001","v":0.41},
{"d":"jurkat","m":"closest/furthest (k= 50)","x":0,"s":"model soup","v":0.77},{"d":"jurkat","m":"closest/furthest (k= 50)","x":0,"s":"lr= 0.1","v":0.82},{"d":"jurkat","m":"closest/furthest (k= 50)","x":0,"s":"lr= 0.01","v":0.60},{"d":"jurkat","m":"closest/furthest (k= 50)","x":0,"s":"lr= 0.001","v":0.20},
{"d":"jurkat","m":"closest/furthest (k= 50)","x":1,"s":"model soup","v":0.73},{"d":"jurkat","m":"closest/furthest (k= 50)","x":1,"s":"lr= 0.1","v":0.76},{"d":"jurkat","m":"closest/furthest (k= 50)","x":1,"s":"lr= 0.01","v":0.61},{"d":"jurkat","m":"closest/furthest (k= 50)","x":1,"s":"lr= 0.001","v":0.25},
{"d":"jurkat","m":"closest/furthest (k= 50)","x":2,"s":"model soup","v":0.82},{"d":"jurkat","m":"closest/furthest (k= 50)","x":2,"s":"lr= 0.1","v":0.84},{"d":"jurkat","m":"closest/furthest (k= 50)","x":2,"s":"lr= 0.01","v":0.67},{"d":"jurkat","m":"closest/furthest (k= 50)","x":2,"s":"lr= 0.001","v":0.34},
{"d":"jurkat","m":"closest/furthest (k= 50)","x":3,"s":"model soup","v":0.73},{"d":"jurkat","m":"closest/furthest (k= 50)","x":3,"s":"lr= 0.1","v":0.73},{"d":"jurkat","m":"closest/furthest (k= 50)","x":3,"s":"lr= 0.01","v":0.59},{"d":"jurkat","m":"closest/furthest (k= 50)","x":3,"s":"lr= 0.001","v":0.34},
{"d":"jurkat","m":"closest/furthest (k= 50)","x":4,"s":"model soup","v":0.74},{"d":"jurkat","m":"closest/furthest (k= 50)","x":4,"s":"lr= 0.1","v":0.70},{"d":"jurkat","m":"closest/furthest (k= 50)","x":4,"s":"lr= 0.01","v":0.67},{"d":"jurkat","m":"closest/furthest (k= 50)","x":4,"s":"lr= 0.001","v":0.25},
{"d":"jurkat","m":"furthest point sampling","x":0,"s":"model soup","v":0.73},{"d":"jurkat","m":"furthest point sampling","x":0,"s":"lr= 0.1","v":0.81},{"d":"jurkat","m":"furthest point sampling","x":0,"s":"lr= 0.01","v":0.60},{"d":"jurkat","m":"furthest point sampling","x":0,"s":"lr= 0.001","v":0.32},
{"d":"jurkat","m":"furthest point sampling","x":1,"s":"model soup","v":0.75},{"d":"jurkat","m":"furthest point sampling","x":1,"s":"lr= 0.1","v":0.82},{"d":"jurkat","m":"furthest point sampling","x":1,"s":"lr= 0.01","v":0.63},{"d":"jurkat","m":"furthest point sampling","x":1,"s":"lr= 0.001","v":0.38},
{"d":"jurkat","m":"furthest point sampling","x":2,"s":"model soup","v":0.63},{"d":"jurkat","m":"furthest point sampling","x":2,"s":"lr= 0.1","v":0.69},{"d":"jurkat","m":"furthest point sampling","x":2,"s":"lr= 0.01","v":0.55},{"d":"jurkat","m":"furthest point sampling","x":2,"s":"lr= 0.001","v":0.21},
{"d":"jurkat","m":"furthest point sampling","x":3,"s":"model soup","v":0.65},{"d":"jurkat","m":"furthest point sampling","x":3,"s":"lr= 0.1","v":0.74},{"d":"jurkat","m":"furthest point sampling","x":3,"s":"lr= 0.01","v":0.48},{"d":"jurkat","m":"furthest point sampling","x":3,"s":"lr= 0.001","v":0.25},
{"d":"jurkat","m":"furthest point sampling","x":4,"s":"model soup","v":0.68},{"d":"jurkat","m":"furthest point sampling","x":4,"s":"lr= 0.1","v":0.79},{"d":"jurkat","m":"furthest point sampling","x":4,"s":"lr= 0.01","v":0.54},{"d":"jurkat","m":"furthest point sampling","x":4,"s":"lr= 0.001","v":0.18}
    ],
    "big": [
      {"seed":0,"s":"model soup","f1":0.232},{"seed":0,"s":"lr= 0.1","f1":0.249},{"seed":0,"s":"lr= 0.01","f1":0.204},{"seed":0,"s":"lr= 0.001","f1":0.144},
      {"seed":1,"s":"model soup","f1":0.237},{"seed":1,"s":"lr= 0.1","f1":0.253},{"seed":1,"s":"lr= 0.01","f1":0.212},{"seed":1,"s":"lr= 0.001","f1":0.157},
      {"seed":2,"s":"model soup","f1":0.210},{"seed":2,"s":"lr= 0.1","f1":0.224},{"seed":2,"s":"lr= 0.01","f1":0.193},{"seed":2,"s":"lr= 0.001","f1":0.121},
      {"seed":3,"s":"model soup","f1":0.215},{"seed":3,"s":"lr= 0.1","f1":0.235},{"seed":3,"s":"lr= 0.01","f1":0.179},{"seed":3,"s":"lr= 0.001","f1":0.128},
      {"seed":4,"s":"model soup","f1":0.221},{"seed":4,"s":"lr= 0.1","f1":0.245},{"seed":4,"s":"lr= 0.01","f1":0.191},{"seed":4,"s":"lr= 0.001","f1":0.114}
    ],
    "zoom": [
      {"x":-4.306,"y":-0.0302,"x2":-0.4,"y2":0.2815},
      {"x":-2.773,"y":-0.1005,"x2":4.41,"y2":0}
    ]
  },
  "resolve": {"scale": {"x": "independent", "y": "independent", "color": "independent", "shape": "independent"}, "legend": {"color": "independent", "shape": "independent"}},
  "spacing": -97,
  "hconcat": [
    {
      "data": {"name": "grid"},
      "facet": {
        "row": {"field": "m", "type": "nominal", "title": null, "sort": ["random", "cold paws", "furthest (k= 100)", "closest (k= 100)", "closest/furthest (k= 50)", "furthest point sampling"], "header": {"labelAngle": 0, "labelOrient": "left", "labelAlign": "left", "labelBaseline": "middle", "labelPadding": 9, "labelFontSize": 15}},
        "column": {"field": "d", "type": "nominal", "title": null, "sort": ["matek", "isic", "retinopathy", "jurkat"], "header": {"labelOrient": "top", "labelPadding": 10, "labelFontSize": 17}}
      },
      "spacing": {"row": 11.8, "column": 11},
      "spec": {
        "width": 95,
        "height": 56,
        "encoding": {
          "x": {"field": "x", "type": "quantitative", "scale": {"domain": [-0.82, 4.77], "nice": false, "zero": false}, "axis": null},
          "y": {"field": "v", "type": "quantitative", "scale": {"domain": [0, 1], "nice": false}, "axis": null},
          "color": {"field": "s", "type": "nominal", "legend": null, "scale": {"domain": ["model soup", "lr= 0.1", "lr= 0.01", "lr= 0.001"], "range": ["#000000", "#b4b4b4", "#b4b4b4", "#b4b4b4"]}},
          "shape": {"field": "s", "type": "nominal", "legend": null, "scale": {"domain": ["model soup", "lr= 0.1", "lr= 0.01", "lr= 0.001"], "range": ["M-1,-0.13H-0.13V-1H0.13V-0.13H1V0.13H0.13V1H-0.13V0.13H-1Z", "M-0.63,-0.63H0.63V0.63H-0.63Z", "M0,-0.79L0.79,0L0,0.79L-0.79,0Z", "M0,-0.9L0.45,0L0,0.9L-0.45,0Z"]}}
        },
        "layer": [
          {"transform": [{"filter": "datum.s !== 'model soup'"}], "mark": {"type": "point", "filled": true, "opacity": 1, "size": 90, "xOffset": -1.7}},
          {"transform": [{"filter": "datum.s === 'model soup'"}], "mark": {"type": "point", "filled": true, "opacity": 1, "size": 90, "xOffset": 1.7}}
        ]
      }
    },
    {
      "spacing": 68,
      "resolve": {"scale": {"x": "independent", "y": "independent", "color": "independent", "shape": "independent"}, "legend": {"color": "independent", "shape": "independent"}},
      "vconcat": [
        {"width": 298, "height": 1, "data": {"values": [{}]}, "mark": {"type": "text", "text": ""}, "encoding": {}, "view": {"stroke": null}},
        {
          "width": 298,
          "height": 224,
          "title": {"text": "jurkat, furthest point sampling", "fontSize": 18, "fontWeight": "normal", "anchor": "middle", "offset": 6},
          "layer": [
            {
              "data": {"name": "zoom"},
              "mark": {"type": "rule", "strokeDash": [1.5, 2.5], "color": "#333", "strokeWidth": 1},
              "encoding": {
                "x": {"field": "x", "type": "quantitative", "scale": {"domain": [-0.4, 4.41], "nice": false, "zero": false}},
                "y": {"field": "y", "type": "quantitative", "scale": {"domain": [0, 0.2815], "nice": false, "zero": false}},
                "x2": {"field": "x2"},
                "y2": {"field": "y2"}
              }
            },
            {
              "data": {"name": "big"},
              "encoding": {
                "x": {"field": "seed", "type": "quantitative", "title": "random seed", "scale": {"domain": [-0.4, 4.41], "nice": false, "zero": false}, "axis": {"values": [0, 1, 2, 3, 4], "format": "d", "labelPadding": 6, "titlePadding": 3}},
                "y": {"field": "f1", "type": "quantitative", "title": "F1-MACRO", "scale": {"domain": [0, 0.2815], "nice": false, "zero": false}, "axis": {"values": [0, 0.05, 0.1, 0.15, 0.2, 0.25], "format": ".2f", "labelPadding": 6, "titlePadding": 6}},
                "color": {"field": "s", "type": "nominal", "scale": {"domain": ["model soup", "lr= 0.1", "lr= 0.01", "lr= 0.001"], "range": ["#000000", "#b4b4b4", "#b4b4b4", "#b4b4b4"]}, "legend": {"title": null, "orient": "bottom-left", "offset": 7, "strokeColor": "#000", "fillColor": "#fff", "padding": 3, "rowPadding": 2, "symbolSize": 260, "symbolOffset": 8, "labelOffset": 13, "labelFontSize": 14}},
                "shape": {"field": "s", "type": "nominal", "scale": {"domain": ["model soup", "lr= 0.1", "lr= 0.01", "lr= 0.001"], "range": ["M-1,-0.07H-0.07V-1H0.07V-0.07H1V0.07H0.07V1H-0.07V0.07H-1Z", "M-0.55,-0.55H0.55V0.55H-0.55Z", "M0,-0.65L0.65,0L0,0.65L-0.65,0Z", "M0,-0.75L0.375,0L0,0.75L-0.375,0Z"]}, "legend": {"title": null, "orient": "bottom-left", "offset": 7, "strokeColor": "#000", "fillColor": "#fff", "padding": 3, "rowPadding": 2, "symbolSize": 260, "symbolOffset": 8, "labelOffset": 13, "labelFontSize": 14}}
              },
              "layer": [
                {"transform": [{"filter": "datum.s !== 'model soup'"}], "mark": {"type": "point", "filled": true, "opacity": 1, "size": 400, "xOffset": -6.5}},
                {"transform": [{"filter": "datum.s === 'model soup'"}], "mark": {"type": "point", "filled": true, "opacity": 1, "size": 400, "xOffset": 7}}
              ]
            }
          ]
        }
      ]
    }
  ]
}
